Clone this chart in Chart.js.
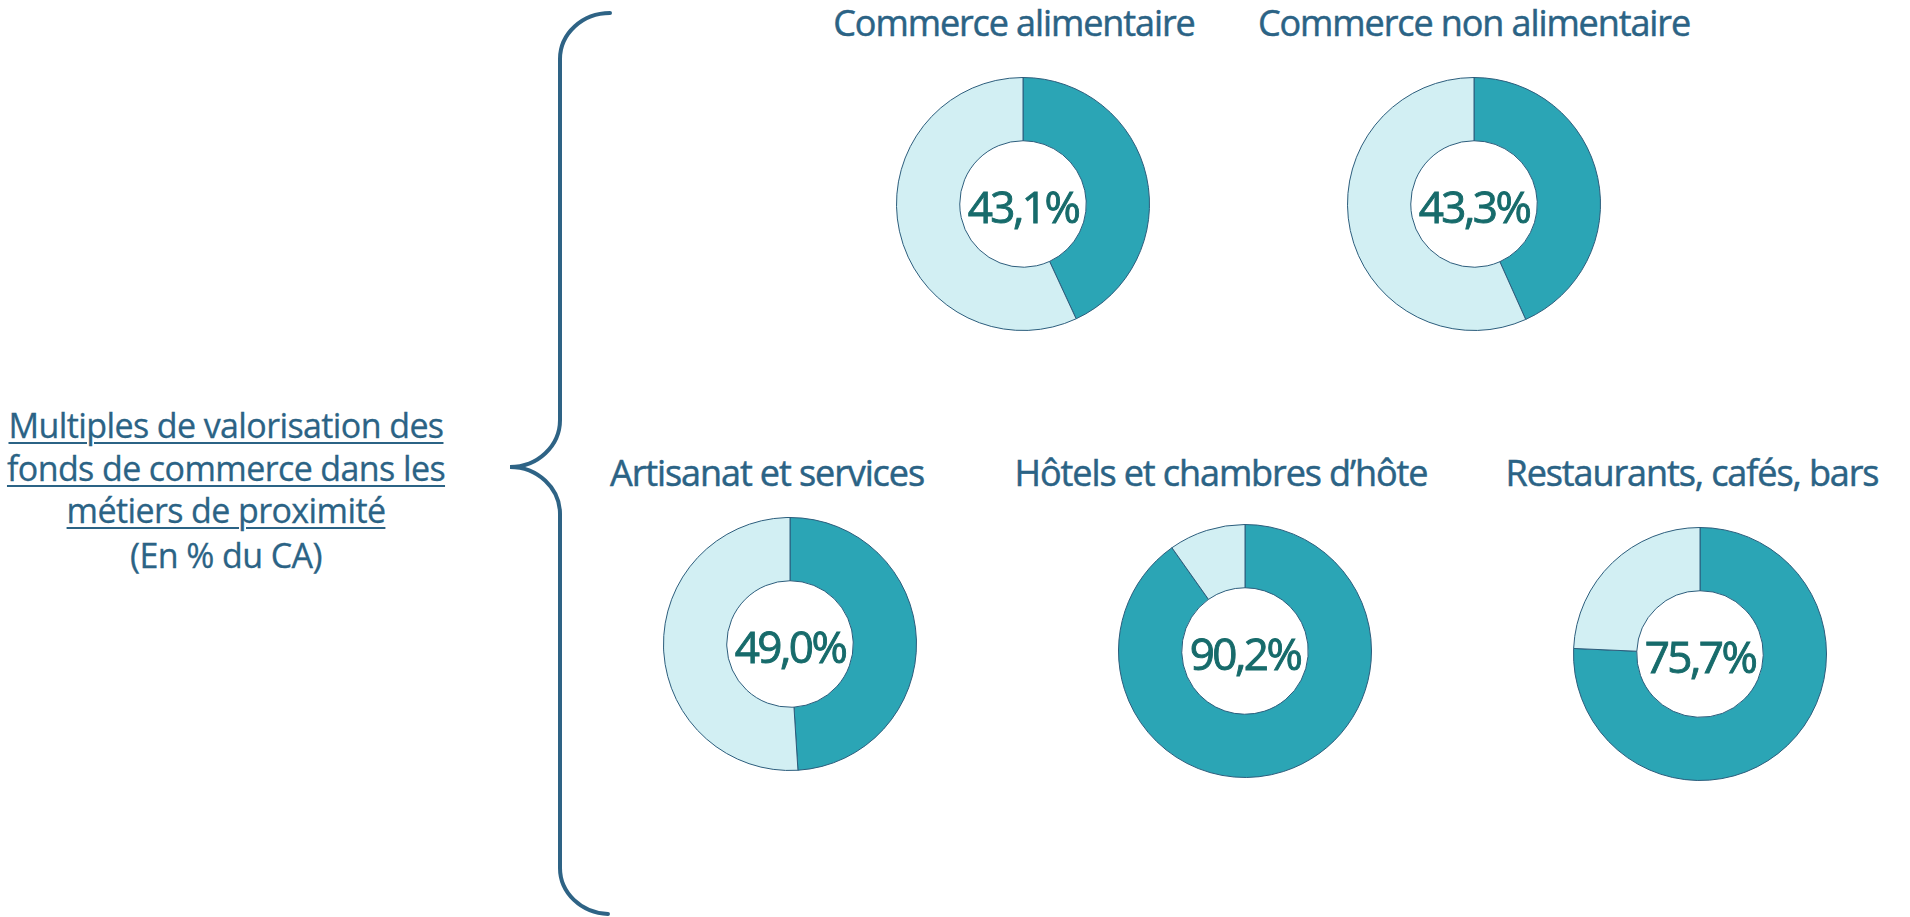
<!DOCTYPE html>
<html>
<head>
<meta charset="utf-8">
<script src="https://cdn.jsdelivr.net/npm/chart.js@4/dist/chart.umd.min.js"></script>
<style>
  body { margin: 0; background: #fff; width: 1910px; height: 917px; overflow: hidden; position: relative; font-family: "Open Sans", sans-serif; }
  .title { position: absolute; width: 600px; text-align: center; font-size: 36px; line-height: 36px; letter-spacing: -1.1px; color: #2b6385; white-space: nowrap; -webkit-text-stroke: 0.5px #2b6385; }
  .lead { position: absolute; left: 0; width: 452px; text-align: center; font-size: 34px; line-height: 34px; letter-spacing: -0.6px; color: #2b6385; white-space: nowrap; -webkit-text-stroke: 0.3px #2b6385; }
  .lead.u { text-decoration: underline; text-decoration-thickness: 1.5px; text-underline-offset: 4px; }
  .donut { position: absolute; width: 254px; height: 254px; }
  svg { position: absolute; left: 0; top: 0; }
</style>
</head>
<body>
<svg width="1910" height="917">
  <path d="M 610 13 A 50 46 0 0 0 560 59 L 560 420 A 50 47 0 0 1 510 467 A 50 47 0 0 1 560 514 L 560 868 A 50 46 0 0 0 608 914"
        fill="none" stroke="#2e6385" stroke-width="4" stroke-linecap="round"/>
</svg>
<div id="root"></div>
<script>
// values (share in % of turnover)
const categories = ['Commerce alimentaire', 'Commerce non alimentaire', 'Artisanat et services', 'Hôtels et chambres d’hôte', 'Restaurants, cafés, bars'];
const shares = [43.1, 43.3, 49.0, 90.2, 75.7];
const shareLabels = ['43,1%', '43,3%', '49,0%', '90,2%', '75,7%'];
const leadLines = ['Multiples de valorisation des', 'fonds de commerce dans les', 'métiers de proximité', '(En % du CA)'];

// layout: donut centers and title positions (center x, baseline y)
const donutCenters = [[1023, 204], [1474, 204], [790, 644], [1245, 651], [1700, 654]];
const titlePos = [[1014, 37], [1474, 37], [767, 487], [1221, 487], [1692, 487]];
const leadBaselines = [438, 481, 523, 568];

const root = document.getElementById('root');

leadLines.forEach((txt, i) => {
    const d = document.createElement('div');
    d.className = 'lead' + (i < 3 ? ' u' : '');
    d.textContent = txt;
    d.style.top = (leadBaselines[i] - 30) + 'px';
    root.appendChild(d);
});

// percentage written in the hole of each donut
const centerLabel = {
    id: 'centerLabel',
    afterDraw(chart) {
        const arc = chart.getDatasetMeta(0).data[0];
        if (!arc) return;
        const ctx = chart.ctx;
        const txt = chart.options.plugins.centerLabel.text;
        ctx.save();
        ctx.font = '44px "Open Sans"';
        if ('letterSpacing' in ctx) ctx.letterSpacing = '-2.5px';
        ctx.fillStyle = '#176b6b';
        ctx.strokeStyle = '#176b6b';
        ctx.lineWidth = 0.9;
        ctx.textAlign = 'center';
        ctx.textBaseline = 'alphabetic';
        ctx.fillText(txt, arc.x, arc.y + 19);
        ctx.strokeText(txt, arc.x, arc.y + 19);
        ctx.restore();
    }
};

categories.forEach((cat, i) => {
    const t = document.createElement('div');
    t.className = 'title';
    t.textContent = cat;
    t.style.left = (titlePos[i][0] - 300) + 'px';
    t.style.top = (titlePos[i][1] - 32) + 'px';
    root.appendChild(t);

    const box = document.createElement('div');
    box.className = 'donut';
    box.style.left = (donutCenters[i][0] - 127) + 'px';
    box.style.top = (donutCenters[i][1] - 127) + 'px';
    const cv = document.createElement('canvas');
    box.appendChild(cv);
    root.appendChild(box);

    new Chart(cv, {
        type: 'doughnut',
        data: {
            labels: [cat, 'Reste'],
            datasets: [{
                data: [shares[i], +(100 - shares[i]).toFixed(1)],
                backgroundColor: ['#2ba5b5', '#d2eff3'],
                borderColor: '#2c5d7c',
                borderWidth: 1
            }]
        },
        options: {
            responsive: true,
            maintainAspectRatio: false,
            animation: false,
            cutout: '50%',
            layout: { padding: 0 },
            plugins: {
                legend: { display: false },
                tooltip: { enabled: false },
                centerLabel: { text: shareLabels[i] }
            }
        },
        plugins: [centerLabel]
    });
});
</script>
</body>
</html>
